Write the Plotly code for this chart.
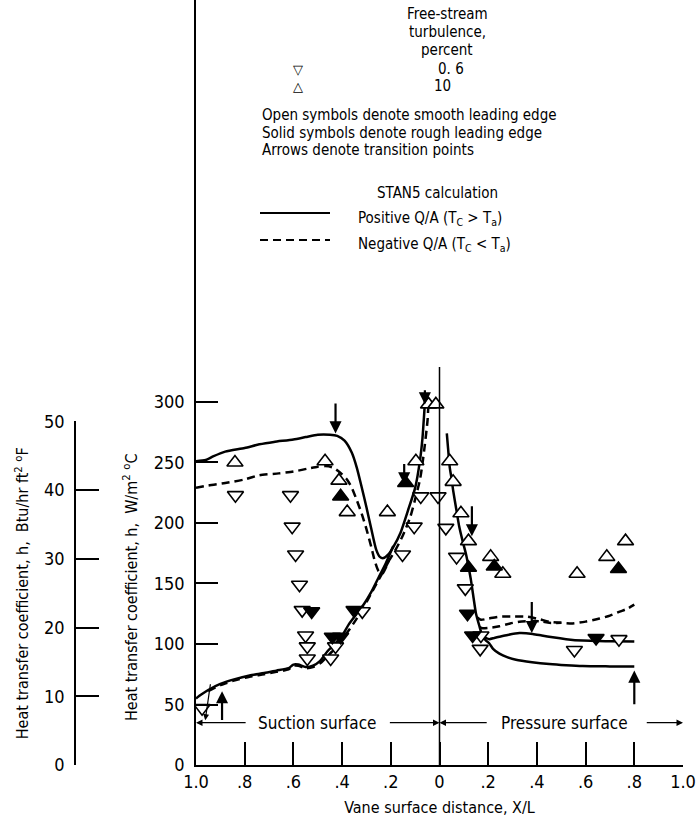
import plotly.graph_objects as go

FONT = "Liberation Sans Narrow, DejaVu Sans Condensed, Liberation Sans, Arial, sans-serif"

# ---------------- data (X/L: suction surface negative, pressure surface positive) ----------------
# STAN5, positive Q/A (solid)
sol_hi_x = [-1.0, -0.96, -0.93, -0.88, -0.80, -0.74, -0.68, -0.60, -0.55, -0.50, -0.45, -0.42,
            -0.39, -0.36, -0.34, -0.32, -0.30, -0.28, -0.26, -0.245, -0.23, -0.21, -0.19, -0.16,
            -0.13, -0.10, -0.08, -0.07, -0.063, -0.058]
sol_hi_h = [251, 252, 255, 259, 262, 265, 267, 269, 271, 273, 273, 272,
            268, 258, 246, 230, 213, 195, 178, 172, 171, 174, 180, 192,
            210, 229, 252, 270, 290, 306]
sol_lo_x = [-1.0, -0.98, -0.95, -0.90, -0.84, -0.78, -0.72, -0.67, -0.62, -0.60, -0.58, -0.55,
            -0.52, -0.49, -0.46, -0.43, -0.40, -0.37, -0.34, -0.31, -0.28, -0.25, -0.22, -0.19]
sol_lo_h = [55, 58, 62, 67, 71, 74, 76, 78, 80, 83, 83, 81,
            82, 86, 94, 100, 107, 117, 125, 133, 143, 155, 167, 181]
sol_pa_x = [0.03, 0.035, 0.042, 0.05, 0.056, 0.07, 0.081, 0.095, 0.108, 0.12, 0.129, 0.14,
            0.15, 0.165, 0.177, 0.19, 0.204, 0.22, 0.246, 0.28, 0.314, 0.38, 0.451, 0.52,
            0.588, 0.70, 0.80]
sol_pa_h = [274, 262, 246, 236, 227, 210, 197, 185, 175, 163, 153, 138,
            125, 114, 106, 103, 100.6, 96, 92, 89, 87, 85, 83.5, 82.5,
            81.8, 81.5, 81.3]
sol_pb_x = [0.177, 0.204, 0.225, 0.246, 0.28, 0.328, 0.383, 0.42, 0.465, 0.52, 0.588, 0.70, 0.80]
sol_pb_h = [106, 104, 105, 106, 107.5, 109, 108.3, 107, 105.5, 104, 102.8, 102.3, 102]

# STAN5, negative Q/A (dashed)
das_hi_x = [-1.0, -0.95, -0.88, -0.80, -0.74, -0.66, -0.60, -0.54, -0.50, -0.47, -0.44, -0.41,
            -0.38, -0.36, -0.34, -0.32, -0.30, -0.28, -0.265, -0.25, -0.235, -0.207, -0.18,
            -0.152, -0.12, -0.097, -0.08, -0.07, -0.06, -0.049, -0.045]
das_hi_h = [229, 231, 233, 236, 239.5, 241, 242.5, 245, 246.5, 247, 246, 242,
            236, 229, 219, 208, 195, 180, 168, 160, 158, 169, 178,
            189, 205, 222, 236, 249, 265, 285, 301]
das_lo_x = [-0.95, -0.90, -0.84, -0.78, -0.72, -0.67, -0.62, -0.60, -0.58, -0.55, -0.52, -0.49,
            -0.46, -0.43, -0.40, -0.37, -0.34, -0.31, -0.28, -0.25, -0.22, -0.207]
das_lo_h = [61, 66, 70, 73, 75, 77, 79, 82, 82, 80, 81, 84,
            90, 96, 104, 112, 121, 131, 142, 153, 164, 169]
das_pa_x = [0.155, 0.17, 0.20, 0.246, 0.30, 0.36, 0.41, 0.451, 0.50, 0.547, 0.60, 0.657,
            0.70, 0.74, 0.77, 0.80]
das_pa_h = [122, 120, 121, 122.6, 122.8, 122.6, 120.5, 118.4, 117.5, 117, 118.5, 121,
            123.5, 126.7, 129, 132.5]
das_pb_x = [0.165, 0.177, 0.21, 0.246, 0.29, 0.328, 0.383, 0.42, 0.451, 0.50]
das_pb_h = [114, 113, 113.5, 114.6, 117, 118.4, 119, 118.5, 117.5, 117.5]

# Measured data
t06_smooth_x = [-0.975, -0.838, -0.612, -0.605, -0.591, -0.575, -0.564, -0.55, -0.543, -0.543,
                -0.447, -0.427, -0.317, -0.152, -0.104, -0.077, -0.006, 0.026, 0.07, 0.106,
                0.17, 0.167, 0.554, 0.737]
t06_smooth_h = [47, 223, 223, 197, 174, 149, 128, 107, 98, 88,
                88, 98, 127, 174, 197, 222, 222, 196, 172, 146,
                107, 96, 95, 104]
t06_rough_x = [-0.525, -0.44, -0.406, -0.351, 0.115, 0.136, 0.643]
t06_rough_h = [127, 106, 106, 128, 125, 107, 105]
t10_smooth_x = [-0.84, -0.47, -0.413, -0.379, -0.214, -0.097, -0.045, -0.015, 0.042, 0.056,
                0.088, 0.119, 0.21, 0.26, 0.565, 0.687, 0.764]
t10_smooth_h = [250, 251, 235, 209, 209, 251, 298, 298, 251, 234,
                208, 185, 172, 158, 158, 172, 185]
t10_rough_x = [-0.406, -0.139, 0.119, 0.225, 0.735]
t10_rough_h = [222, 233, 163, 164, 162]

# Transition-point arrows: (x, tail h, tip h)
arrow_x = [-0.427, -0.145, -0.06, 0.133, 0.379, 0.80, -0.893]
arrow_tail = [300, 250, 311, 215, 136, 49, 36]
arrow_tip = [274, 232, 298, 189, 109, 78, 61]

x_ticks = [-1.0, -0.8, -0.6, -0.4, -0.2, 0.0, 0.2, 0.4, 0.6, 0.8, 1.0]
x_ticktext = ["1.0", ".8", ".6", ".4", ".2", "0", ".2", ".4", ".6", ".8", "1.0"]
si_ticks = [0, 50, 100, 150, 200, 250, 300]
eng_ticks = [0, 10, 20, 30, 40, 50]
W_PER_BTU = 5.678

# ---------------- figure ----------------
fig = go.Figure()

line_sets = [
    (sol_hi_x, sol_hi_h, "solid"), (sol_lo_x, sol_lo_h, "solid"),
    (sol_pa_x, sol_pa_h, "solid"), (sol_pb_x, sol_pb_h, "solid"),
    (das_hi_x, das_hi_h, "8px,5px"), (das_lo_x, das_lo_h, "8px,5px"),
    (das_pa_x, das_pa_h, "8px,5px"), (das_pb_x, das_pb_h, "8px,5px"),
]
for xs, hs, dash in line_sets:
    fig.add_trace(go.Scatter(x=xs, y=hs, mode="lines", showlegend=False, hoverinfo="skip",
                             line=dict(color="black", width=2.5, dash=dash, shape="spline",
                                       smoothing=0.6)))

marker_sets = [
    (t06_smooth_x, t06_smooth_h, "triangle-down", "white"),
    (t10_smooth_x, t10_smooth_h, "triangle-up", "white"),
    (t06_rough_x, t06_rough_h, "triangle-down", "black"),
    (t10_rough_x, t10_rough_h, "triangle-up", "black"),
]
for xs, hs, sym, fill in marker_sets:
    fig.add_trace(go.Scatter(x=xs, y=hs, mode="markers", showlegend=False,
                             marker=dict(symbol=sym, size=14, color=fill,
                                         line=dict(color="black", width=1.6))))

# dummy trace so the Btu axis is drawn
fig.add_trace(go.Scatter(x=[None], y=[None], yaxis="y2", showlegend=False, hoverinfo="skip"))

# transition arrows
for ax_, t0, t1 in zip(arrow_x, arrow_tail, arrow_tip):
    fig.add_annotation(x=ax_, y=t1, ax=ax_, ay=t0, axref="x", ayref="y", xref="x", yref="y",
                       text="", showarrow=True, arrowhead=2, arrowsize=1.1, arrowwidth=2.2,
                       arrowcolor="black")
# thin arrow at suction trailing edge
fig.add_annotation(x=-0.962, y=37, ax=-0.94, ay=68, axref="x", ayref="y", text="",
                   showarrow=True, arrowhead=2, arrowsize=1, arrowwidth=1.2, arrowcolor="black")

# surface labels with arrows
SURF_H = 35
fig.add_annotation(x=-0.5, y=SURF_H, text="Suction surface", showarrow=False,
                   font=dict(family=FONT, size=17, color="black"))
fig.add_annotation(x=0.515, y=SURF_H, text="Pressure surface", showarrow=False,
                   font=dict(family=FONT, size=17, color="black"))
for tail, tip in [(-0.79, -1.0), (-0.21, 0.0), (0.2, 0.0), (0.845, 1.0)]:
    fig.add_annotation(x=tip, y=SURF_H, ax=tail, ay=SURF_H, axref="x", ayref="y", text="",
                       showarrow=True, arrowhead=2, arrowsize=1, arrowwidth=1.3,
                       arrowcolor="black")

# zero (stagnation) line
fig.add_shape(type="line", xref="x", yref="y", x0=0, x1=0, y0=0, y1=329,
              line=dict(color="black", width=1.5))

# ---------------- legend (annotations + shapes) ----------------
def px_x(p):
    return (p - 10) / 673.0

def px_y(p):
    return (765 - p) / 765.0

leg_font = dict(family=FONT, size=15, color="black")
legend_texts = [
    ("Free-stream", 447, 14, "center"),
    ("turbulence,", 447, 32, "center"),
    ("percent", 447, 50, "center"),
    ("0. 6", 451, 69, "center"),
    ("10", 442, 86, "center"),
    ("Open symbols denote smooth leading edge", 260, 115, "left"),
    ("Solid symbols denote rough leading edge", 260, 133, "left"),
    ("Arrows denote transition points", 260, 150, "left"),
    ("STAN5 calculation", 437, 193, "center"),
    ("Positive Q/A (T<sub>C</sub> &gt; T<sub>a</sub>)", 356, 218, "left"),
    ("Negative Q/A (T<sub>C</sub> &lt; T<sub>a</sub>)", 356, 245, "left"),
]
for txt, px, py, anc in legend_texts:
    fig.add_annotation(xref="paper", yref="paper", x=px_x(px), y=px_y(py), text=txt,
                       showarrow=False, xanchor=anc, yanchor="middle", font=leg_font)
for sym, py in [("▽", 69), ("△", 86)]:
    fig.add_annotation(xref="paper", yref="paper", x=px_x(298), y=px_y(py), text=sym,
                       showarrow=False, xanchor="center", yanchor="middle",
                       font=dict(family="DejaVu Sans", size=13, color="black"))
fig.add_shape(type="line", xref="paper", yref="paper", x0=px_x(260), x1=px_x(330),
              y0=px_y(213), y1=px_y(213), line=dict(color="black", width=2.2))
fig.add_shape(type="line", xref="paper", yref="paper", x0=px_x(260), x1=px_x(330),
              y0=px_y(240), y1=px_y(240), line=dict(color="black", width=2.2, dash="8px,5px"))

# main y-axis title, centred on the 0-300 scale as in the original
fig.add_annotation(xref="paper", yref="paper", x=px_x(130), y=px_y(588),
                   text="Heat transfer coefficient, h,  W/m<sup>2</sup> <sup>o</sup>C",
                   textangle=-90, showarrow=False, xanchor="center", yanchor="middle",
                   font=dict(family=FONT, size=16, color="black"))

# ---------------- axes ----------------
Y_TOP = 632.2
axis_common = dict(showline=True, linecolor="black", linewidth=1.5, showgrid=False,
                   zeroline=False, ticks="inside", tickcolor="black", tickwidth=1.5)

fig.update_layout(
    width=697, height=822,
    margin=dict(l=10, r=14, t=0, b=57, autoexpand=False),
    paper_bgcolor="white", plot_bgcolor="rgba(0,0,0,0)",
    font=dict(family=FONT, color="black"),
    xaxis=dict(domain=[(196 - 10) / 673.0, 1], range=[-1, 1], tickvals=x_ticks,
               ticktext=x_ticktext, ticklen=23, tickfont=dict(size=18),
               title=dict(text="Vane surface distance, X/L", font=dict(size=16), standoff=10),
               **axis_common),
    yaxis=dict(domain=[0, 1], range=[0, Y_TOP], tickvals=si_ticks, ticklen=22,
               tickfont=dict(size=18), ticklabelstandoff=6,
               **axis_common),
    yaxis2=dict(domain=[0, 50 * W_PER_BTU / Y_TOP], range=[0, 50], tickvals=eng_ticks,
                anchor="free", position=(75 - 10) / 673.0, side="left", ticklen=23,
                tickfont=dict(size=18), ticklabelstandoff=6,
                title=dict(text="Heat transfer coefficient, h,  Btu/hr ft<sup>2</sup> <sup>o</sup>F",
                           font=dict(size=16), standoff=10),
                **axis_common),
)

fig.write_html("out.html", config={"displayModeBar": False},
               post_script="document.body.style.margin='0px';")
